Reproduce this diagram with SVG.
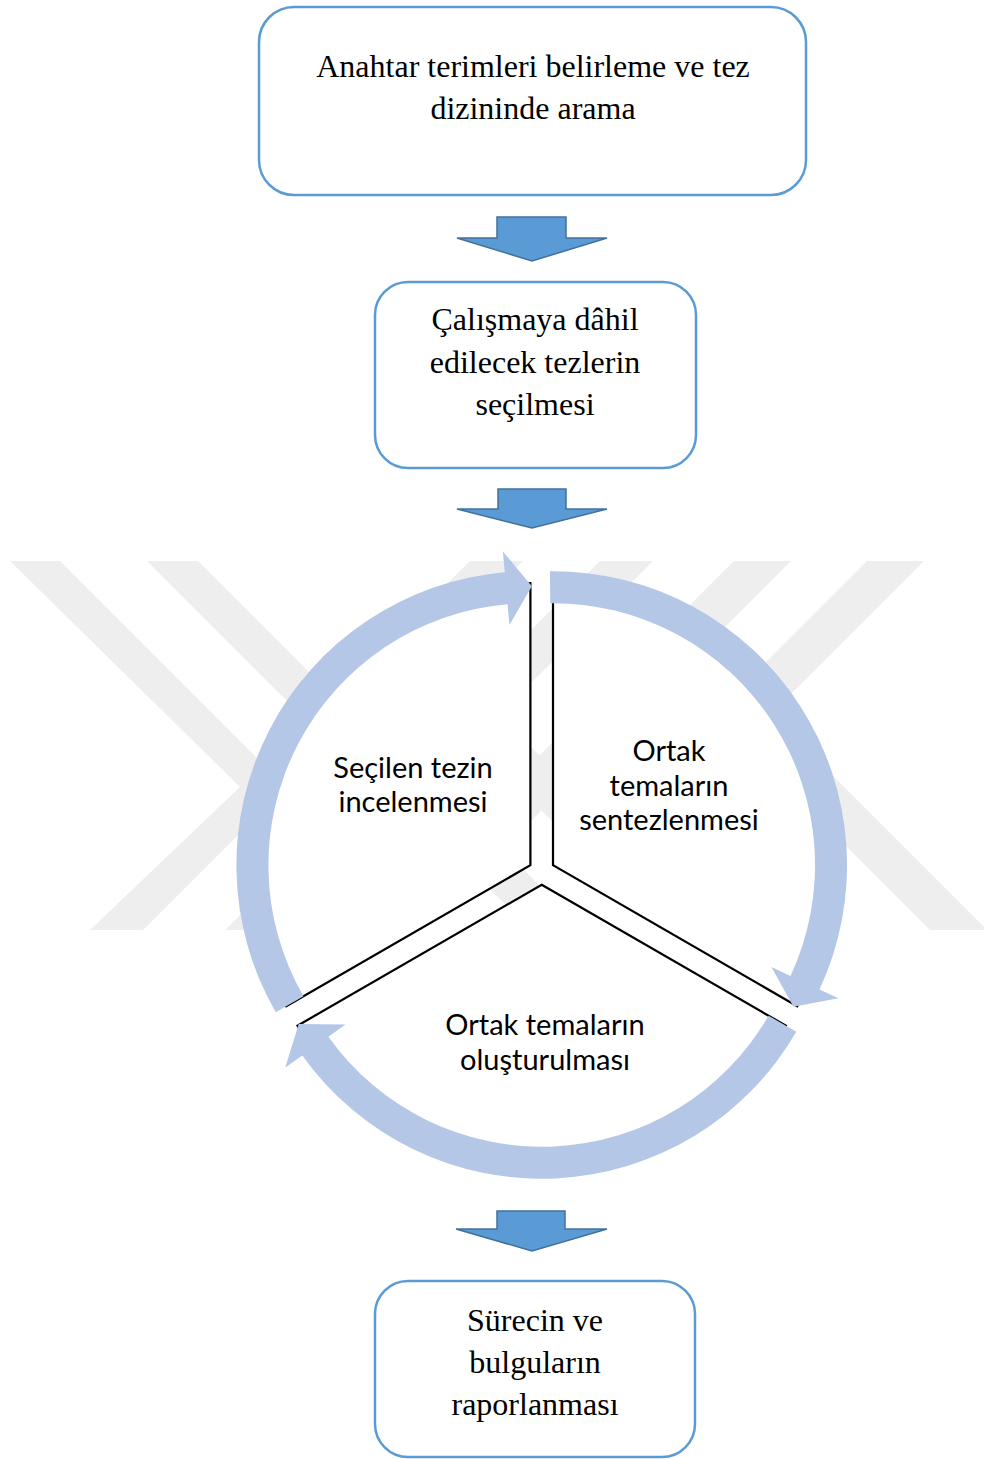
<svg xmlns="http://www.w3.org/2000/svg" width="984" height="1459" viewBox="0 0 984 1459">
<style>
.box{fill:#ffffff;stroke:#5b9bd5;stroke-width:2.5}
.blk{fill:#5b9bd5;stroke:#41719c;stroke-width:1.5;stroke-linejoin:miter}
.wm{fill:#eeeeee}
.seg{fill:#ffffff;stroke:#000000;stroke-width:2.2;stroke-linejoin:miter}
.ring{fill:#b4c7e7}
.st{font-family:"Liberation Serif","Times New Roman",serif;font-size:32px;fill:#000;text-anchor:middle}
.ct{font-family:Lato,"Liberation Sans",sans-serif;font-size:29px;fill:#000;text-anchor:middle}
</style>
<rect width="984" height="1459" fill="#ffffff"/>
<g id="watermark">
<polygon class="wm" points="10,561 60,561 286,787 143,930 90,930 240,787"/>
<polygon class="wm" points="147,561 198,561 422,785 277,930 225,930 371,785"/>
<polygon class="wm" points="470,561 523,561 369,715 584,930 531,930 316,715"/>
<polygon class="wm" points="600,561 653,561 499,715 714,930 661,930 446,715"/>
<polygon class="wm" points="734,561 791,561 422,930 365,930"/>
<polygon class="wm" points="867,561 924,561 771,714 987,930 930,930 714,714"/>
</g>
<g id="box1">
<rect class="box" x="259" y="7" width="547" height="188" rx="35"/>
<text class="st" x="533" y="77">Anahtar terimleri belirleme ve tez</text>
<text class="st" x="533" y="119">dizininde arama</text>
</g>
<g id="box2">
<rect class="box" x="375" y="282" width="321" height="186" rx="33"/>
<text class="st" x="535" y="330">Çalışmaya dâhil</text>
<text class="st" x="535" y="373">edilecek tezlerin</text>
<text class="st" x="535" y="415">seçilmesi</text>
</g>
<g id="box4">
<rect class="box" x="375" y="1281" width="320" height="176" rx="33"/>
<text class="st" x="535" y="1331">Sürecin ve</text>
<text class="st" x="535" y="1373">bulguların</text>
<text class="st" x="535" y="1415">raporlanması</text>
</g>
<g id="cycle">
<g id="seg-left">
<path class="seg" d="M530.4 865.2 L530.4 583.2 A282 282 0 0 0 286.2 1006.2 Z"/>
<text class="ct" x="413" y="778">Seçilen tezin</text>
<text class="ct" x="413" y="812">incelenmesi</text>
</g>
<g id="seg-right">
<path class="seg" d="M553 865.2 L553 583.2 A282 282 0 0 1 797.2 1006.2 Z"/>
<text class="ct" x="669" y="761">Ortak</text>
<text class="ct" x="669" y="796">temaların</text>
<text class="ct" x="669" y="830">sentezlenmesi</text>
</g>
<g id="seg-bottom">
<path class="seg" d="M541.7 884.7 L785.9 1025.7 A282 282 0 0 1 297.5 1025.7 Z"/>
<text class="ct" x="545" y="1035">Ortak temaların</text>
<text class="ct" x="545" y="1070">oluşturulması</text>
</g>
</g>
<g id="connectors">
<path class="ring" d="M275.8 1012.2 A294 294 0 0 1 504.8 572.3 L502.9 551.4 L531.9 586.2 L509.4 625.1 L507.6 604.2 A262 262 0 0 0 303.5 996.2 Z"/>
<path class="ring" d="M549.9 571.2 A294 294 0 0 1 819.5 989.4 L838.5 998.3 L793.4 1006.8 L771.4 967.1 L790.5 975.9 A262 262 0 0 0 550.3 603.2 Z"/>
<path class="ring" d="M796.3 1031.7 A294 294 0 0 1 302.3 1055.4 L285.3 1067.6 L298.7 1023.9 L345.5 1024.6 L328.4 1036.8 A262 262 0 0 0 768.6 1015.7 Z"/>
<path class="blk" d="M497 217 L566 217 L566 238 L607 238 L532 261 L457 238 L497 238 Z"/>
<path class="blk" d="M498 489 L566 489 L566 509 L607 509 L532 528 L457 509 L498 509 Z"/>
<path class="blk" d="M497 1211 L565 1211 L565 1229 L607 1229 L532 1251 L456 1229 L497 1229 Z"/>
</g>
</svg>
